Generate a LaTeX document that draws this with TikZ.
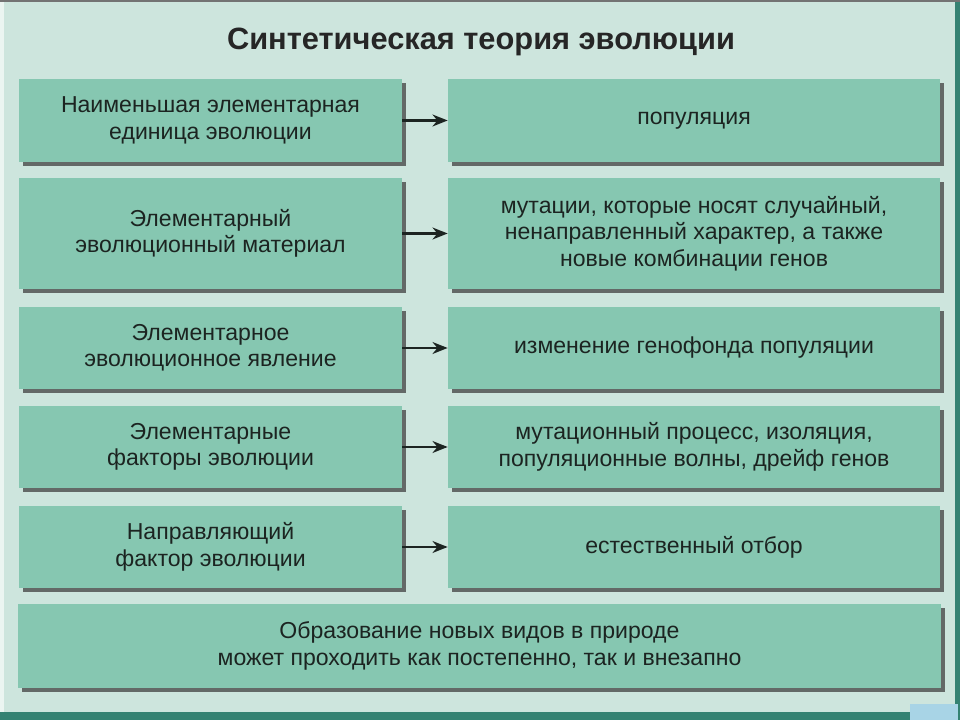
\documentclass[tikz,border=0pt]{standalone}
\usepackage{fontspec}
\setmainfont{Liberation Sans}
\usepackage{tikz}
\usetikzlibrary{arrows.meta, shadows}
\definecolor{pagebg}{RGB}{205,229,221}
\definecolor{boxgreen}{RGB}{134,199,177}
\definecolor{frameteal}{RGB}{52,130,114}
\definecolor{inktext}{RGB}{28,36,33}
\definecolor{cornerblue}{RGB}{168,212,230}

\begin{document}
\begin{tikzpicture}[
    x=0.025cm, y=-0.025cm,
    box/.style={rectangle,fill=boxgreen,inner sep=0pt,align=center,text=inktext,
        font=\fontsize{16.4}{18.8}\selectfont,
        drop shadow={shadow xshift=0.1cm,shadow yshift=-0.1cm,fill=black!75,opacity=0.75}},
    leftbox/.style={box,minimum width=9.575cm},
    rightbox/.style={box,minimum width=12.3cm},
    arrow/.style={-{Stealth[length=0.38cm,width=0.3cm]},line width=1.5pt,inktext}
]
    % Page background and frame
    \useasboundingbox (0,0) rectangle (960,720);
    \fill[pagebg] (0,0) rectangle (960,720);
    \fill[white!60!pagebg] (0,0) rectangle (4,720);
    \fill[frameteal] (955,0) rectangle (960,720);
    \fill[frameteal] (0,712) rectangle (960,720);
    \fill[black!55] (0,0) rectangle (960,2);
    \fill[cornerblue] (910,704) rectangle (958,720);

    % Title
    \node[font=\fontsize{21.9}{26}\selectfont\bfseries,text=black!85] (title) at (481,42) {Синтетическая теория эволюции};

    % Left column
    \node[leftbox,minimum height=2.075cm] (l1) at (210.5,120.5) {Наименьшая элементарная\\единица эволюции};
    \node[leftbox,minimum height=2.775cm] (l2) at (210.5,233.5) {Элементарный\\эволюционный материал};
    \node[leftbox,minimum height=2.05cm] (l3) at (210.5,348) {Элементарное\\эволюционное явление};
    \node[leftbox,minimum height=2.05cm] (l4) at (210.5,447) {Элементарные\\факторы эволюции};
    \node[leftbox,minimum height=2.05cm] (l5) at (210.5,547) {Направляющий\\фактор эволюции};

    % Right column
    \node[rightbox,minimum height=2.075cm] (r1) at (694,120.5) {популяция};
    \node[rightbox,minimum height=2.775cm] (r2) at (694,233.5) {мутации, которые носят случайный,\\ненаправленный характер, а также\\новые комбинации генов};
    \node[rightbox,minimum height=2.05cm] (r3) at (694,348) {изменение генофонда популяции};
    \node[rightbox,minimum height=2.05cm] (r4) at (694,447) {мутационный процесс, изоляция,\\популяционные волны, дрейф генов};
    \node[rightbox,minimum height=2.05cm] (r5) at (694,547) {естественный отбор};

    % Bottom summary
    \node[box,minimum width=23.05cm,minimum height=2.075cm] (speciation) at (479.5,646) {Образование новых видов в природе\\может проходить как постепенно, так и внезапно};

    % Connectors
    \foreach \i in {1,...,5}
        \draw[arrow] (l\i.east) -- (r\i.west);
\end{tikzpicture}
\end{document}
